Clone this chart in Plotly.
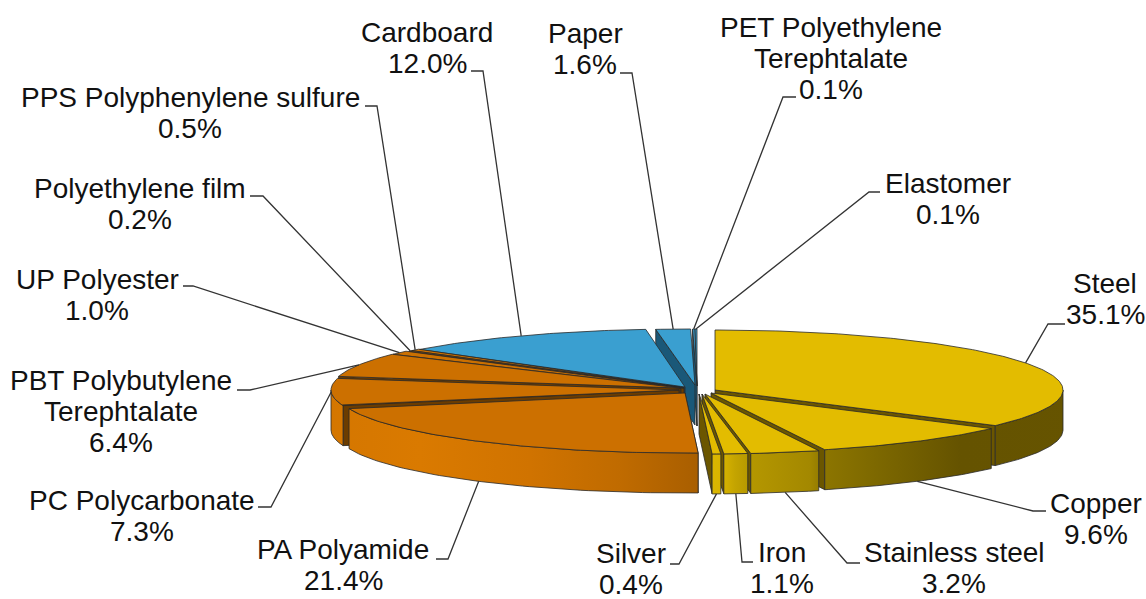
import numpy as np
import plotly.graph_objects as go

# ---- data -------------------------------------------------------------
materials = ["Steel", "Copper", "Stainless steel", "Iron", "Silver", "PA Polyamide",
             "PC Polycarbonate", "PBT Polybutylene Terephtalate", "UP Polyester",
             "Polyethylene film", "PPS Polyphenylene sulfure", "Cardboard", "Paper",
             "PET Polyethylene Terephtalate", "Elastomer"]
shares = [35.1, 9.6, 3.2, 1.1, 0.4, 21.4, 7.3, 6.4, 1.0, 0.2, 0.5, 12.0, 1.6, 0.1, 0.1]
label_lines = [["Steel"], ["Copper"], ["Stainless steel"], ["Iron"], ["Silver"], ["PA Polyamide"],
               ["PC Polycarbonate"], ["PBT Polybutylene", "Terephtalate"], ["UP Polyester"],
               ["Polyethylene film"], ["PPS Polyphenylene sulfure"], ["Cardboard"], ["Paper"],
               ["PET Polyethylene", "Terephtalate"], ["Elastomer"]]
family = ["y", "y", "y", "y", "y", "o", "o", "o", "o", "o", "o", "b", "b", "b", "b"]

# ---- style / layout ---------------------------------------------------
RX, DEPTH = 348, 40
apex_x = [715, 711, 705, 702, 699, 685, 679, 680, 681, 684, 684, 685, 695, 697, 697]
apex_y = [390, 393, 394, 394, 394, 393, 390, 388, 388, 388, 388, 387, 385, 386, 386]
slice_ry = [60, 60, 60, 60, 60, 60, 60, 60, 60, 60, 60, 58, 56, 57, 57]
top_col = {"y": "#E3BC00", "o": "#CC7000", "b": "#3A9FD0"}
cut_col = {"y": "#6B5600", "o": "#6B3C00", "b": "#1A5878"}
wall_scale = {
    "y": [(700, "#DDB800"), (722, "#D8B400"), (735, "#C4A400"), (750, "#B59700"), (810, "#A38800"),
          (825, "#8C7500"), (900, "#766200"), (960, "#655300"), (1100, "#665400")],
    "o": [(320, "#D47600"), (420, "#DA7A00"), (530, "#D07300"), (620, "#C06B00"), (700, "#A85E00")],
    "b": [(320, "#3A9FD0"), (700, "#3A9FD0")],
}
LINE = dict(color="#2a2a2a", width=0.8)
FONT = dict(family="Liberation Sans, Arial, sans-serif", size=28, color="#111111")
LINE_PITCH = 31
label_cx = [1105, 1096, 954, 782, 631, 343, 142, 121, 97, 140, 190, 427, 585, 831, 948]
label_y0 = [283, 503, 552, 552, 553, 549, 500, 380, 279, 188, 97, 32, 33, 27, 183]
leader_start = [(1065, 324), (1046, 511), (860, 563), (753, 562), (670, 564), (436, 559),
                (258, 507), (237, 390), (183, 286), (250, 196), (365, 106), (471, 71),
                (620, 73), (796, 97), (880, 192)]
leader_elbow = [(1048, 324), (1033, 511), (847, 563), (742, 562), (679, 564), (448, 559),
                (271, 507), (250, 390), (193, 286), (263, 196), (377, 106), (483, 71),
                (632, 73), (783, 97), (869, 192)]
leader_on_wall = [False, True, True, True, True, True, False, False, False, False, False,
                  False, False, False, False]

# ---- geometry ---------------------------------------------------------
edges = np.concatenate([[0], np.cumsum(shares)]) / sum(shares) * 360.0


def rim(i, deg):
    t = np.radians(deg)
    return apex_x[i] + RX * np.sin(t), apex_y[i] - slice_ry[i] * np.cos(t)


def add_poly(fig, xs, ys, fill, gradient=None):
    kw = dict(fillgradient=gradient) if gradient else dict(fillcolor=fill)
    fig.add_trace(go.Scatter(x=list(xs) + [xs[0]], y=list(ys) + [ys[0]], mode="lines",
                             fill="toself", line=LINE, hoverinfo="skip",
                             showlegend=False, **kw))


def draw_slice(fig, i):
    ax, ay = apex_x[i], apex_y[i]
    a0, a1 = edges[i], edges[i + 1]
    fam = family[i]
    # visible radial cut face
    cut_deg = a1 if a1 <= 180 else a0
    ex, ey = rim(i, cut_deg)
    add_poly(fig, [ax, ex, ex, ax], [ay, ey, ey + DEPTH, ay + DEPTH], cut_col[fam])
    # outer wall on the front half
    w0, w1 = max(a0, 90), min(a1, 270)
    if w1 > w0:
        th = np.linspace(w0, w1, 60)
        wx, wy = rim(i, th)
        lo, hi = wall_scale[fam][0][0], wall_scale[fam][-1][0]
        scale = [[(p - lo) / (hi - lo), c] for p, c in wall_scale[fam]]
        add_poly(fig, np.r_[wx, wx[::-1]], np.r_[wy, wy[::-1] + DEPTH], None,
                 gradient=dict(type="horizontal", colorscale=scale, start=lo, stop=hi))
    # top face
    th = np.linspace(a0, a1, max(3, int((a1 - a0) * 1.5)))
    tx, ty = rim(i, th)
    add_poly(fig, np.r_[ax, tx], np.r_[ay, ty], top_col[fam])


fig = go.Figure()
# back-to-front painting order
for i in [14, 13, 12, 11, 10, 9, 8, 7, 6, 5]:
    draw_slice(fig, i)
for i in [0, 1, 2, 3, 4]:
    draw_slice(fig, i)

# leaders and labels
annotations = []
for i, name in enumerate(materials):
    mid = (edges[i] + edges[i + 1]) / 2
    rx_, ry_ = rim(i, mid)
    if leader_on_wall[i]:
        ry_ += DEPTH
    fig.add_trace(go.Scatter(
        x=[leader_start[i][0], leader_elbow[i][0], rx_],
        y=[leader_start[i][1], leader_elbow[i][1], ry_],
        mode="lines", line=dict(color="#333333", width=1.3),
        hoverinfo="skip", showlegend=False, name=name))
    lines = label_lines[i] + [f"{shares[i]:.1f}%"]
    for k, txt in enumerate(lines):
        annotations.append(dict(x=label_cx[i], y=label_y0[i] + k * LINE_PITCH, text=txt,
                                showarrow=False, xanchor="center", yanchor="middle",
                                font=FONT, xref="x", yref="y"))

fig.update_layout(
    width=1146, height=599, margin=dict(l=0, r=0, t=0, b=0),
    paper_bgcolor="white", plot_bgcolor="white", showlegend=False,
    xaxis=dict(range=[0, 1146], visible=False, fixedrange=True),
    yaxis=dict(range=[599, 0], visible=False, fixedrange=True),
    annotations=annotations,
)
fig.write_html("out.html", post_script="document.body.style.margin='0';",
               config={"displayModeBar": False})
